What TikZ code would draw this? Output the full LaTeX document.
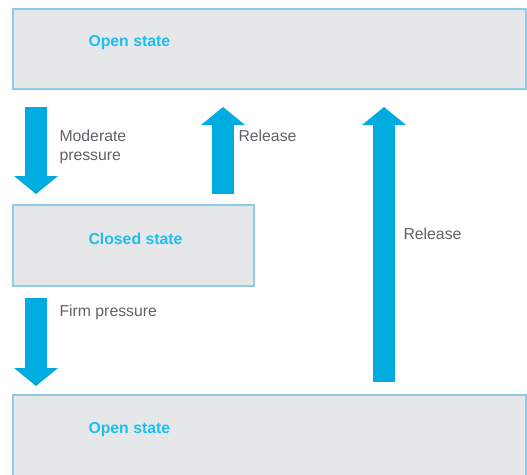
\documentclass[tikz,border=0pt]{standalone}
\usepackage{fontspec}
\setmainfont{Liberation Sans}
\usetikzlibrary{arrows.meta,fit}

\definecolor{boxfill}{RGB}{230,231,232}
\definecolor{boxline}{RGB}{141,203,232}
\definecolor{arrowblue}{RGB}{0,171,223}
\definecolor{titleblue}{RGB}{30,190,240}
\definecolor{labelgray}{RGB}{95,98,102}

\tikzset{every picture/.style={line width=0.75pt}}
\tikzset{
  statebox/.style={draw=boxline, fill=boxfill, line width=1.5pt, inner sep=0pt},
  statetext/.style={anchor=base west, inner sep=0pt, text=titleblue, font=\fontsize{11.85}{13.5}\selectfont\bfseries},
  steptext/.style={anchor=base west, inner sep=0pt, text=labelgray, align=left, font=\fontsize{11.85}{13.5}\selectfont},
  blockarrow/.style={draw=arrowblue, line width=16.5pt,
    -{Triangle[width=33pt 0 0, length=13.5pt 0 0, line width=0pt 0 0, fill=arrowblue]}}
}

\begin{document}
\begin{tikzpicture}[x=0.75pt,y=0.75pt,yscale=-1,xscale=1]
\useasboundingbox (0,0) rectangle (527,474);

%Shape: Rectangle [open state, top]
\node [statebox, fit={(13,9) (526,89)}] (opentop) {};
%Shape: Rectangle [closed state]
\node [statebox, fit={(13,205) (254,286)}] (closed) {};
%Shape: Rectangle [open state, bottom]
\node [statebox, fit={(13,395) (526,490)}] (openbot) {};

%Block Arrows
\draw [blockarrow] ([shift={(24,17)}]opentop.south west) -- ([shift={(24,-10)}]closed.north west) ;
\draw [blockarrow] ([shift={(211,-10)}]closed.north west) -- ([shift={(211,17)}]opentop.south west) ;
\draw [blockarrow] ([shift={(24,11)}]closed.south west) -- ([shift={(24,-8)}]openbot.north west) ;
\draw [blockarrow] ([shift={(372,-12)}]openbot.north west) -- ([shift={(372,17)}]opentop.south west) ;

% Text Node
\node [statetext] (lblopentop) at (88,46.5) {Open state};
% Text Node
\node [statetext] (lblclosed) at (88,244) {Closed state};
% Text Node
\node [statetext] (lblopenbot) at (88,433.5) {Open state};
% Text Node (base = last line)
\node [steptext] (lblmoderate) at (59,160) {Moderate\\pressure};
% Text Node
\node [steptext] (lblrelease) at (238,142) {Release};
% Text Node
\node [steptext] (lblfirm) at (59,316.5) {Firm pressure};
% Text Node
\node [steptext] (lblreleasebig) at (403,239) {Release};

\end{tikzpicture}
\end{document}
